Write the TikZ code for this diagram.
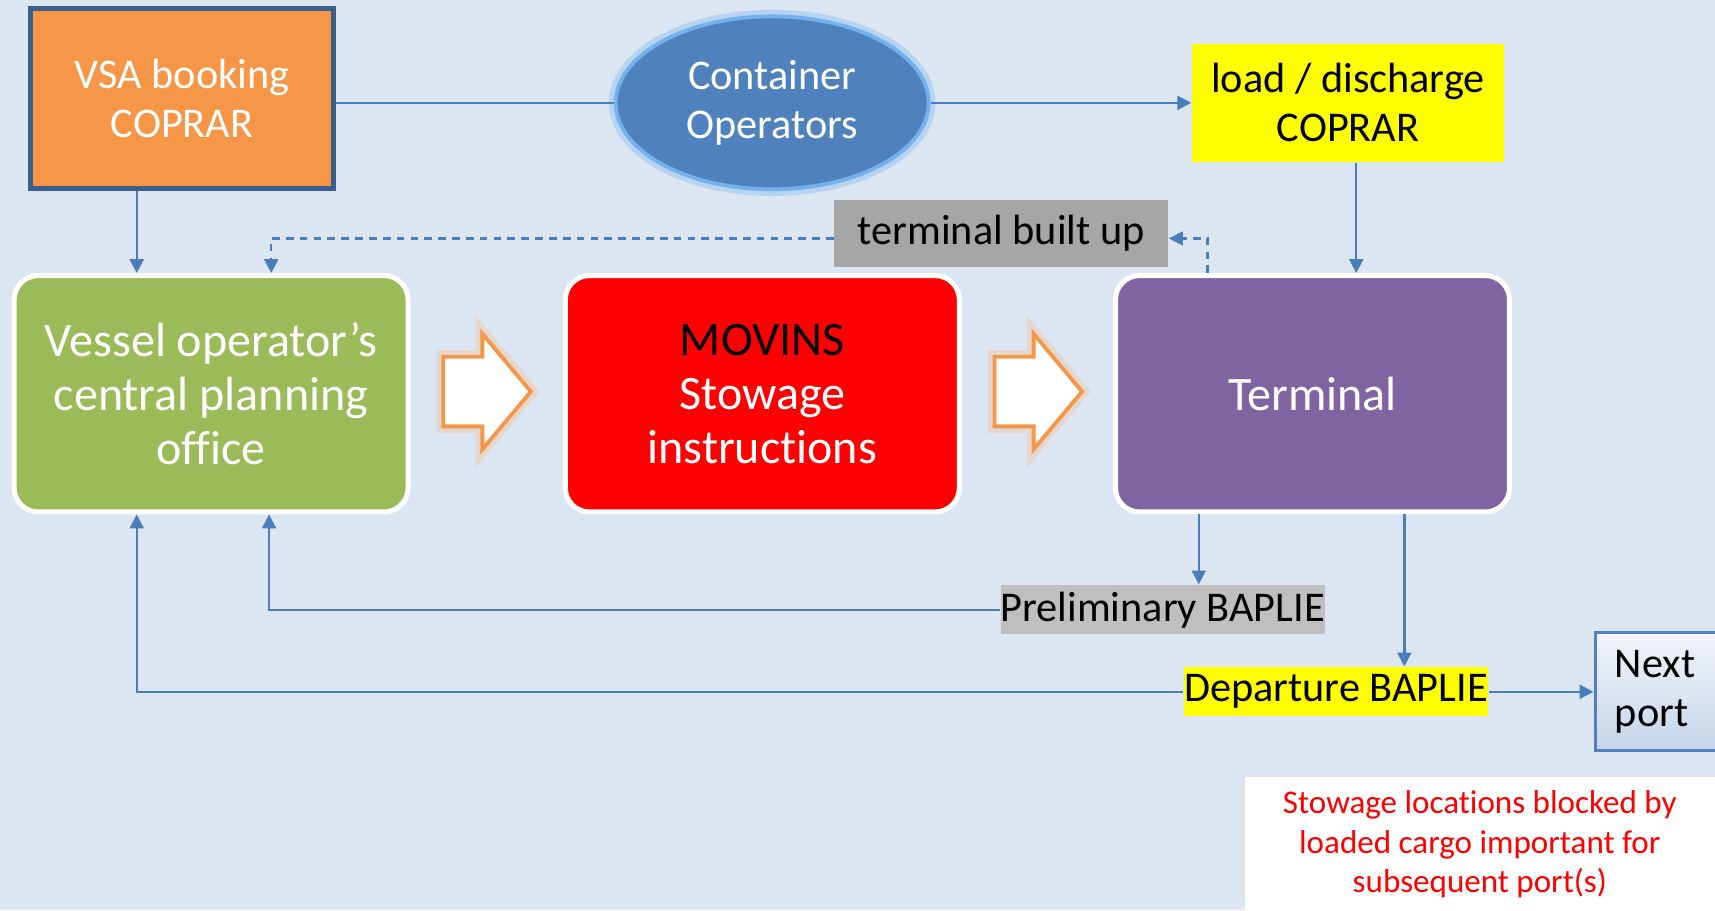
\documentclass[tikz,border=0pt]{standalone}
\usepackage{fontspec}
\setmainfont{Carlito}[Ligatures=NoCommon]
\usetikzlibrary{arrows.meta,shapes.geometric,shapes.arrows}

\definecolor{bgblue}{HTML}{DCE6F2}
\definecolor{vsaorange}{HTML}{F79646}
\definecolor{vsaborder}{HTML}{3B5F8D}
\definecolor{opsblue}{HTML}{4F81BD}
\definecolor{opsglow}{HTML}{74B1EF}
\definecolor{vopgreen}{HTML}{9BBB59}
\definecolor{movred}{HTML}{FF0000}
\definecolor{terpurple}{HTML}{8064A2}
\definecolor{hlyellow}{HTML}{FFFF00}
\definecolor{graydark}{HTML}{A6A6A6}
\definecolor{graylight}{HTML}{BFBFBF}
\definecolor{lineblue}{HTML}{4A7EBB}
\definecolor{nptop}{HTML}{F2F5FA}
\definecolor{npmid}{HTML}{B4C8E4}
\definecolor{npbot}{HTML}{C5D5EA}

\tikzset{
  bigbox/.style={draw=white, line width=1.3pt, rounded corners=0.22cm,
    minimum width=3.6cm, minimum height=2.16cm, align=center,
    font=\fontsize{12.5pt}{14pt}\selectfont},
  tag/.style={inner sep=0pt, align=center, font=\fontsize{11pt}{12.8pt}\selectfont},
  flow/.style={draw=lineblue, line width=0.6pt, -{Triangle[width=3.6pt,length=3.6pt]}},
  plain/.style={draw=lineblue, line width=0.6pt},
  dflow/.style={flow, dash pattern=on 2pt off 1.6pt},
  fatarrow/.style={single arrow, draw=vsaorange, line width=1pt, fill=white,
    preaction={draw=vsaorange!70, line width=3.5pt, opacity=0.3},
    inner xsep=0.05cm, inner ysep=0.3cm, single arrow head extend=0.21cm,
    single arrow tip angle=100, minimum height=0.8cm}
}

\begin{document}
\begin{tikzpicture}[x=0.01cm, y=-0.01cm]
  \clip (0,0) rectangle (1568,832);
  \fill[bgblue] (0,0) rectangle (1568,832);

  % Top row
  \node[tag, fill=vsaorange, draw=vsaborder, line width=1.4pt, text=white,
    minimum width=2.77cm, minimum height=1.64cm] (vsa) at (166.5,90) {VSA booking\\COPRAR};
  \node[ellipse, fill=opsblue, draw=opsglow, line width=1pt, text=white,
    preaction={draw=opsglow, line width=3.5pt, opacity=0.35},
    minimum width=2.86cm, minimum height=1.58cm, align=center,
    font=\fontsize{11pt}{12.8pt}\selectfont] (ops) at (706,94) {Container\\Operators};
  \node[tag, fill=hlyellow, minimum width=2.85cm, minimum height=1.08cm] (ldc)
    at (1232.5,94) {load / discharge\\COPRAR};
  \node[tag, fill=graydark, minimum width=3.05cm, minimum height=0.61cm] (tbu)
    at (915.5,213.5) {terminal built up};

  % Main boxes
  \node[bigbox, fill=vopgreen, text=white] (vop) at (193,360) {Vessel operator’s\\central planning\\office};
  \node[bigbox, fill=movred, text=white] (mov) at (697,360) {\textcolor{black}{MOVINS}\\Stowage\\instructions};
  \node[bigbox, fill=terpurple, text=white] (ter) at (1200,360) {Terminal};

  % Block arrows
  \foreach \x/\n in {432/arr1, 936/arr2}
    \node[fatarrow] (\n) at (\x,358) {};

  % BAPLIE messages
  \node[tag, fill=graylight, minimum width=2.96cm, minimum height=0.45cm] (pre)
    at (1063,557.5) {Preliminary BAPLIE};
  \node[tag, fill=hlyellow, minimum width=2.77cm, minimum height=0.45cm] (dep)
    at (1221.5,632.5) {Departure BAPLIE};
  \node[tag, align=left, anchor=west, draw=opsblue, line width=0.8pt,
    top color=nptop, middle color=npmid, bottom color=npbot,
    text width=1.35cm, minimum height=1.08cm, inner xsep=0.18cm] (nxt)
    at (1457,632.5) {Next\\port};
  \node[fill=white, minimum width=4.5cm, minimum height=1.4cm, anchor=north west] (note)
    at (1138,710) {};
  \node[align=center, text=movred, font=\fontsize{8.6pt}{10.2pt}\selectfont] (notetxt)
    at (1353,772) {Stowage locations blocked by\\loaded cargo important for\\subsequent port(s)};

  % Connectors
  \draw[plain] (vsa.east |- ops.west) -- (ops.west);
  \draw[flow] (ops.east) -- (ldc.west);
  \draw[flow] (vsa.south -| 125,0) -- (vop.north -| 125,0);
  \draw[flow] (ldc.south -| 1240,0) -- (ter.north -| 1240,0);
  \draw[dflow] (ter.north -| 1104,0) -- (1104,218) -- (tbu.east |- 0,218);
  \draw[dflow] (tbu.west |- 0,218) -- (248,218) -- (vop.north -| 248,0);
  \draw[flow] (ter.south -| 1096,0) -- (pre.north -| 1096,0);
  \draw[flow] (pre.west) -- (246,557.5) -- (vop.south -| 246,0);
  \draw[flow] (ter.south -| 1284,0) -- (dep.north -| 1284,0);
  \draw[flow] (dep.west) -- (125,632.5) -- (vop.south -| 125,0);
  \draw[flow] (dep.east) -- (nxt.west);
\end{tikzpicture}
\end{document}
